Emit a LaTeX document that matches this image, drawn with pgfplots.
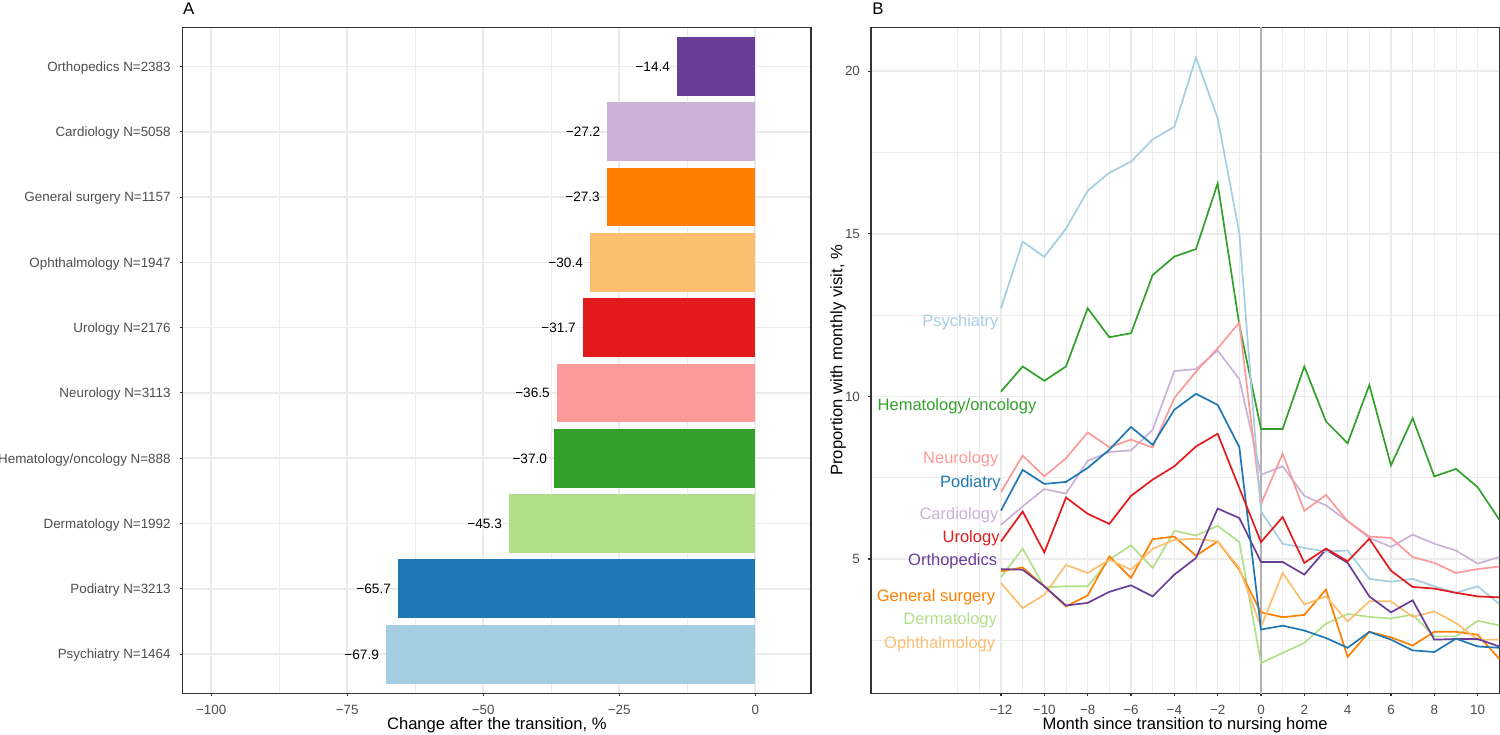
\documentclass[border=0pt]{standalone}
\usepackage{fontspec}
\setmainfont{Liberation Sans}
\usepackage{pgfplots}
\usepackage{pgfplotstable}
\pgfplotsset{compat=1.18}

\definecolor{cPsy}{HTML}{A6CEE3}
\definecolor{cPod}{HTML}{1F78B4}
\definecolor{cDer}{HTML}{B2DF8A}
\definecolor{cHem}{HTML}{33A02C}
\definecolor{cNeu}{HTML}{FB9A99}
\definecolor{cUro}{HTML}{E31A1C}
\definecolor{cOph}{HTML}{FDBF6F}
\definecolor{cGen}{HTML}{FF7F00}
\definecolor{cCar}{HTML}{CAB2D6}
\definecolor{cOrt}{HTML}{6A3D9A}
\definecolor{gridc}{HTML}{EBEBEB}
\definecolor{framec}{HTML}{333333}
\definecolor{tickc}{HTML}{4D4D4D}

\pgfplotstableread{
m   psy   hem   neu   pod   car   uro   ort   gen   der   oph
-12 12.71 10.15 7.06 6.49 6.05 5.54 4.69 4.62 4.44 4.26
-11 14.76 10.92 8.18 7.74 6.62 6.46 4.67 4.74 5.32 3.49
-10 14.29 10.48 7.54 7.31 7.15 5.20 4.16 4.16 4.13 3.90
-9  15.16 10.92 8.10 7.37 7.01 6.89 3.57 3.54 4.16 4.82
-8  16.32 12.71 8.89 7.80 8.02 6.39 3.65 3.88 4.16 4.57
-7  16.88 11.82 8.44 8.36 8.29 6.08 3.99 5.08 4.98 4.98
-6  17.22 11.94 8.67 9.06 8.34 6.94 4.19 4.42 5.42 4.67
-5  17.90 13.73 8.43 8.51 8.97 7.44 3.85 5.61 4.72 5.31
-4  18.29 14.30 9.95 9.59 10.78 7.85 4.52 5.69 5.87 5.59
-3  20.42 14.53 10.76 10.08 10.84 8.46 5.03 5.10 5.72 5.62
-2  18.55 16.55 11.48 9.74 11.41 8.85 6.55 5.54 6.02 5.54
-1  15.02 12.20 12.27 8.44 10.53 7.18 6.26 4.67 5.52 4.72
0   6.46  9.00  6.69 2.83 7.59 5.52 4.91 3.36 1.80 2.91
1   5.47  9.00  8.24 2.95 7.85 6.29 4.91 3.21 2.11 4.57
2   5.34  10.92 6.48 2.80 6.94 4.88 4.52 3.28 2.42 3.60
3   5.23  9.23  6.97 2.57 6.65 5.32 5.29 4.06 3.01 3.85
4   5.26  8.56  6.16 2.27 6.16 4.93 4.88 1.99 3.31 3.08
5   4.39  10.35 5.69 2.76 5.65 5.62 3.85 2.76 3.22 3.70
6   4.30  7.88  5.65 2.52 5.37 4.64 3.36 2.59 3.17 3.70
7   4.39  9.33  5.06 2.19 5.75 4.14 3.73 2.34 3.29 3.22
8   4.16  7.54  4.88 2.14 5.47 4.09 2.52 2.76 2.62 3.39
9   3.96  7.77  4.57 2.55 5.26 3.96 2.54 2.76 2.62 3.03
10  4.16  7.21  4.69 2.31 4.86 3.85 2.54 2.67 3.10 2.52
11  3.62  6.21  4.77 2.27 5.06 3.82 2.31 1.93 2.96 2.52
}\linedata

\pgfplotsset{
  ggbase/.style={
    scale only axis, width=314.15pt, height=333pt,
    axis line style={framec, line width=0.55pt},
    tick style={framec, line width=0.55pt},
    major tick length=1.5pt, minor tick length=0pt,
    tick align=outside, tick pos=left,
    grid=both,
    major grid style={gridc, line width=0.8pt},
    minor grid style={gridc, line width=0.45pt},
    ticklabel style={font=\fontsize{6.7}{8}\selectfont, text=tickc},
    xticklabel style={anchor=base, yshift=-9.25pt, inner sep=0pt},
    label style={font=\fontsize{8.3}{10}\selectfont, text=black},
    xlabel style={at={(axis description cs:0.5,-0.0476)}, anchor=center},
    /pgf/number format/assume math mode=true,
    clip=true,
  },
}
\tikzset{
  blab/.style={anchor=base east, inner sep=0pt, yshift=-3pt, font=\fontsize{8.25}{10}\selectfont},
}

\begin{document}
\begin{tikzpicture}
\path[use as bounding box] (0,0) rectangle (750pt,367pt);

\node[anchor=base west, inner sep=0pt, font=\fontsize{8.4}{10}\selectfont] at (91.35pt,359.5pt) {A};
\node[anchor=base west, inner sep=0pt, font=\fontsize{8.4}{10}\selectfont] at (436.0pt,359.5pt) {B};

% Panel A
\begin{axis}[ggbase, at={(91.35pt,20.35pt)}, anchor=south west,
  xmin=-105.25, xmax=10.25, ymin=0.4, ymax=10.6,
  xtick={-100,-75,-50,-25,0}, xticklabels={−100,−75,−50,−25,0},
  minor xtick={-87.5,-62.5,-37.5,-12.5},
  ytick={1,2,3,4,5,6,7,8,9,10},
  yticklabels={Psychiatry N=1464, Podiatry N=3213, Dermatology N=1992, Hematology/oncology N=888, Neurology N=3113, Urology N=2176, Ophthalmology N=1947, General surgery N=1157, Cardiology N=5058, Orthopedics N=2383},
  yticklabel style={anchor=base east, inner sep=0pt, xshift=-4.35pt, yshift=-2.4pt},
  xlabel={Change after the transition, \%},
  xbar, bar width=0.9, bar shift=0pt,
  nodes near coords, point meta=explicit symbolic,
  every node near coord/.append style={anchor=base east, inner sep=0pt, xshift=-3.3pt, yshift=-2.45pt, font=\fontsize{6.8}{8}\selectfont, text=black},
]
\addplot[fill=cPsy, draw=none] coordinates {(-67.9,1) [−67.9]};
\addplot[fill=cPod, draw=none] coordinates {(-65.7,2) [−65.7]};
\addplot[fill=cDer, draw=none] coordinates {(-45.3,3) [−45.3]};
\addplot[fill=cHem, draw=none] coordinates {(-37.0,4) [−37.0]};
\addplot[fill=cNeu, draw=none] coordinates {(-36.5,5) [−36.5]};
\addplot[fill=cUro, draw=none] coordinates {(-31.7,6) [−31.7]};
\addplot[fill=cOph, draw=none] coordinates {(-30.4,7) [−30.4]};
\addplot[fill=cGen, draw=none] coordinates {(-27.3,8) [−27.3]};
\addplot[fill=cCar, draw=none] coordinates {(-27.2,9) [−27.2]};
\addplot[fill=cOrt, draw=none] coordinates {(-14.4,10) [−14.4]};
\end{axis}

% Panel B
\begin{axis}[ggbase, at={(435.5pt,20.35pt)}, anchor=south west,
  xmin=-18, xmax=11, ymin=0.87, ymax=21.35,
  xtick={-12,-10,-8,-6,-4,-2,0,2,4,6,8,10},
  xticklabels={−12,−10,−8,−6,−4,−2,0,2,4,6,8,10},
  minor xtick={-14,-13,-11,-9,-7,-5,-3,-1,1,3,5,7,9,11},
  ytick={5,10,15,20}, minor ytick={2.5,7.5,12.5,17.5},
  yticklabel style={anchor=base east, inner sep=0pt, xshift=-3.85pt, yshift=-2.4pt},
  xlabel={Month since transition to nursing home},
  ylabel={Proportion with monthly visit, \%},
  ylabel style={at={(axis description cs:-0.0525,0.5)}, anchor=center},
  every axis plot/.append style={line width=0.85pt, no markers},
]
\addplot[black!30, line width=0.65pt] coordinates {(0,0) (0,22)};
\addplot[cCar] table[x=m,y=car]{\linedata};
\addplot[cDer] table[x=m,y=der]{\linedata};
\addplot[cGen] table[x=m,y=gen]{\linedata};
\addplot[cHem] table[x=m,y=hem]{\linedata};
\addplot[cNeu] table[x=m,y=neu]{\linedata};
\addplot[cOph] table[x=m,y=oph]{\linedata};
\addplot[cOrt] table[x=m,y=ort]{\linedata};
\addplot[cPod] table[x=m,y=pod]{\linedata};
\addplot[cPsy] table[x=m,y=psy]{\linedata};
\addplot[cUro] table[x=m,y=uro]{\linedata};

\node[blab, text=cPsy] at (axis cs:-12.1,12.32) {Psychiatry};
\node[blab, text=cHem] at (axis cs:-10.35,9.76) {Hematology/oncology};
\node[blab, text=cNeu] at (axis cs:-12.1,8.13) {Neurology};
\node[blab, text=cPod] at (axis cs:-12.0,7.38) {Podiatry};
\node[blab, text=cCar] at (axis cs:-12.1,6.41) {Cardiology};
\node[blab, text=cUro] at (axis cs:-12.05,5.68) {Urology};
\node[blab, text=cOrt] at (axis cs:-12.16,4.98) {Orthopedics};
\node[blab, text=cGen] at (axis cs:-12.25,3.87) {General surgery};
\node[blab, text=cDer] at (axis cs:-12.17,3.16) {Dermatology};
\node[blab, text=cOph] at (axis cs:-12.25,2.44) {Ophthalmology};
\end{axis}
\end{tikzpicture}
\end{document}
